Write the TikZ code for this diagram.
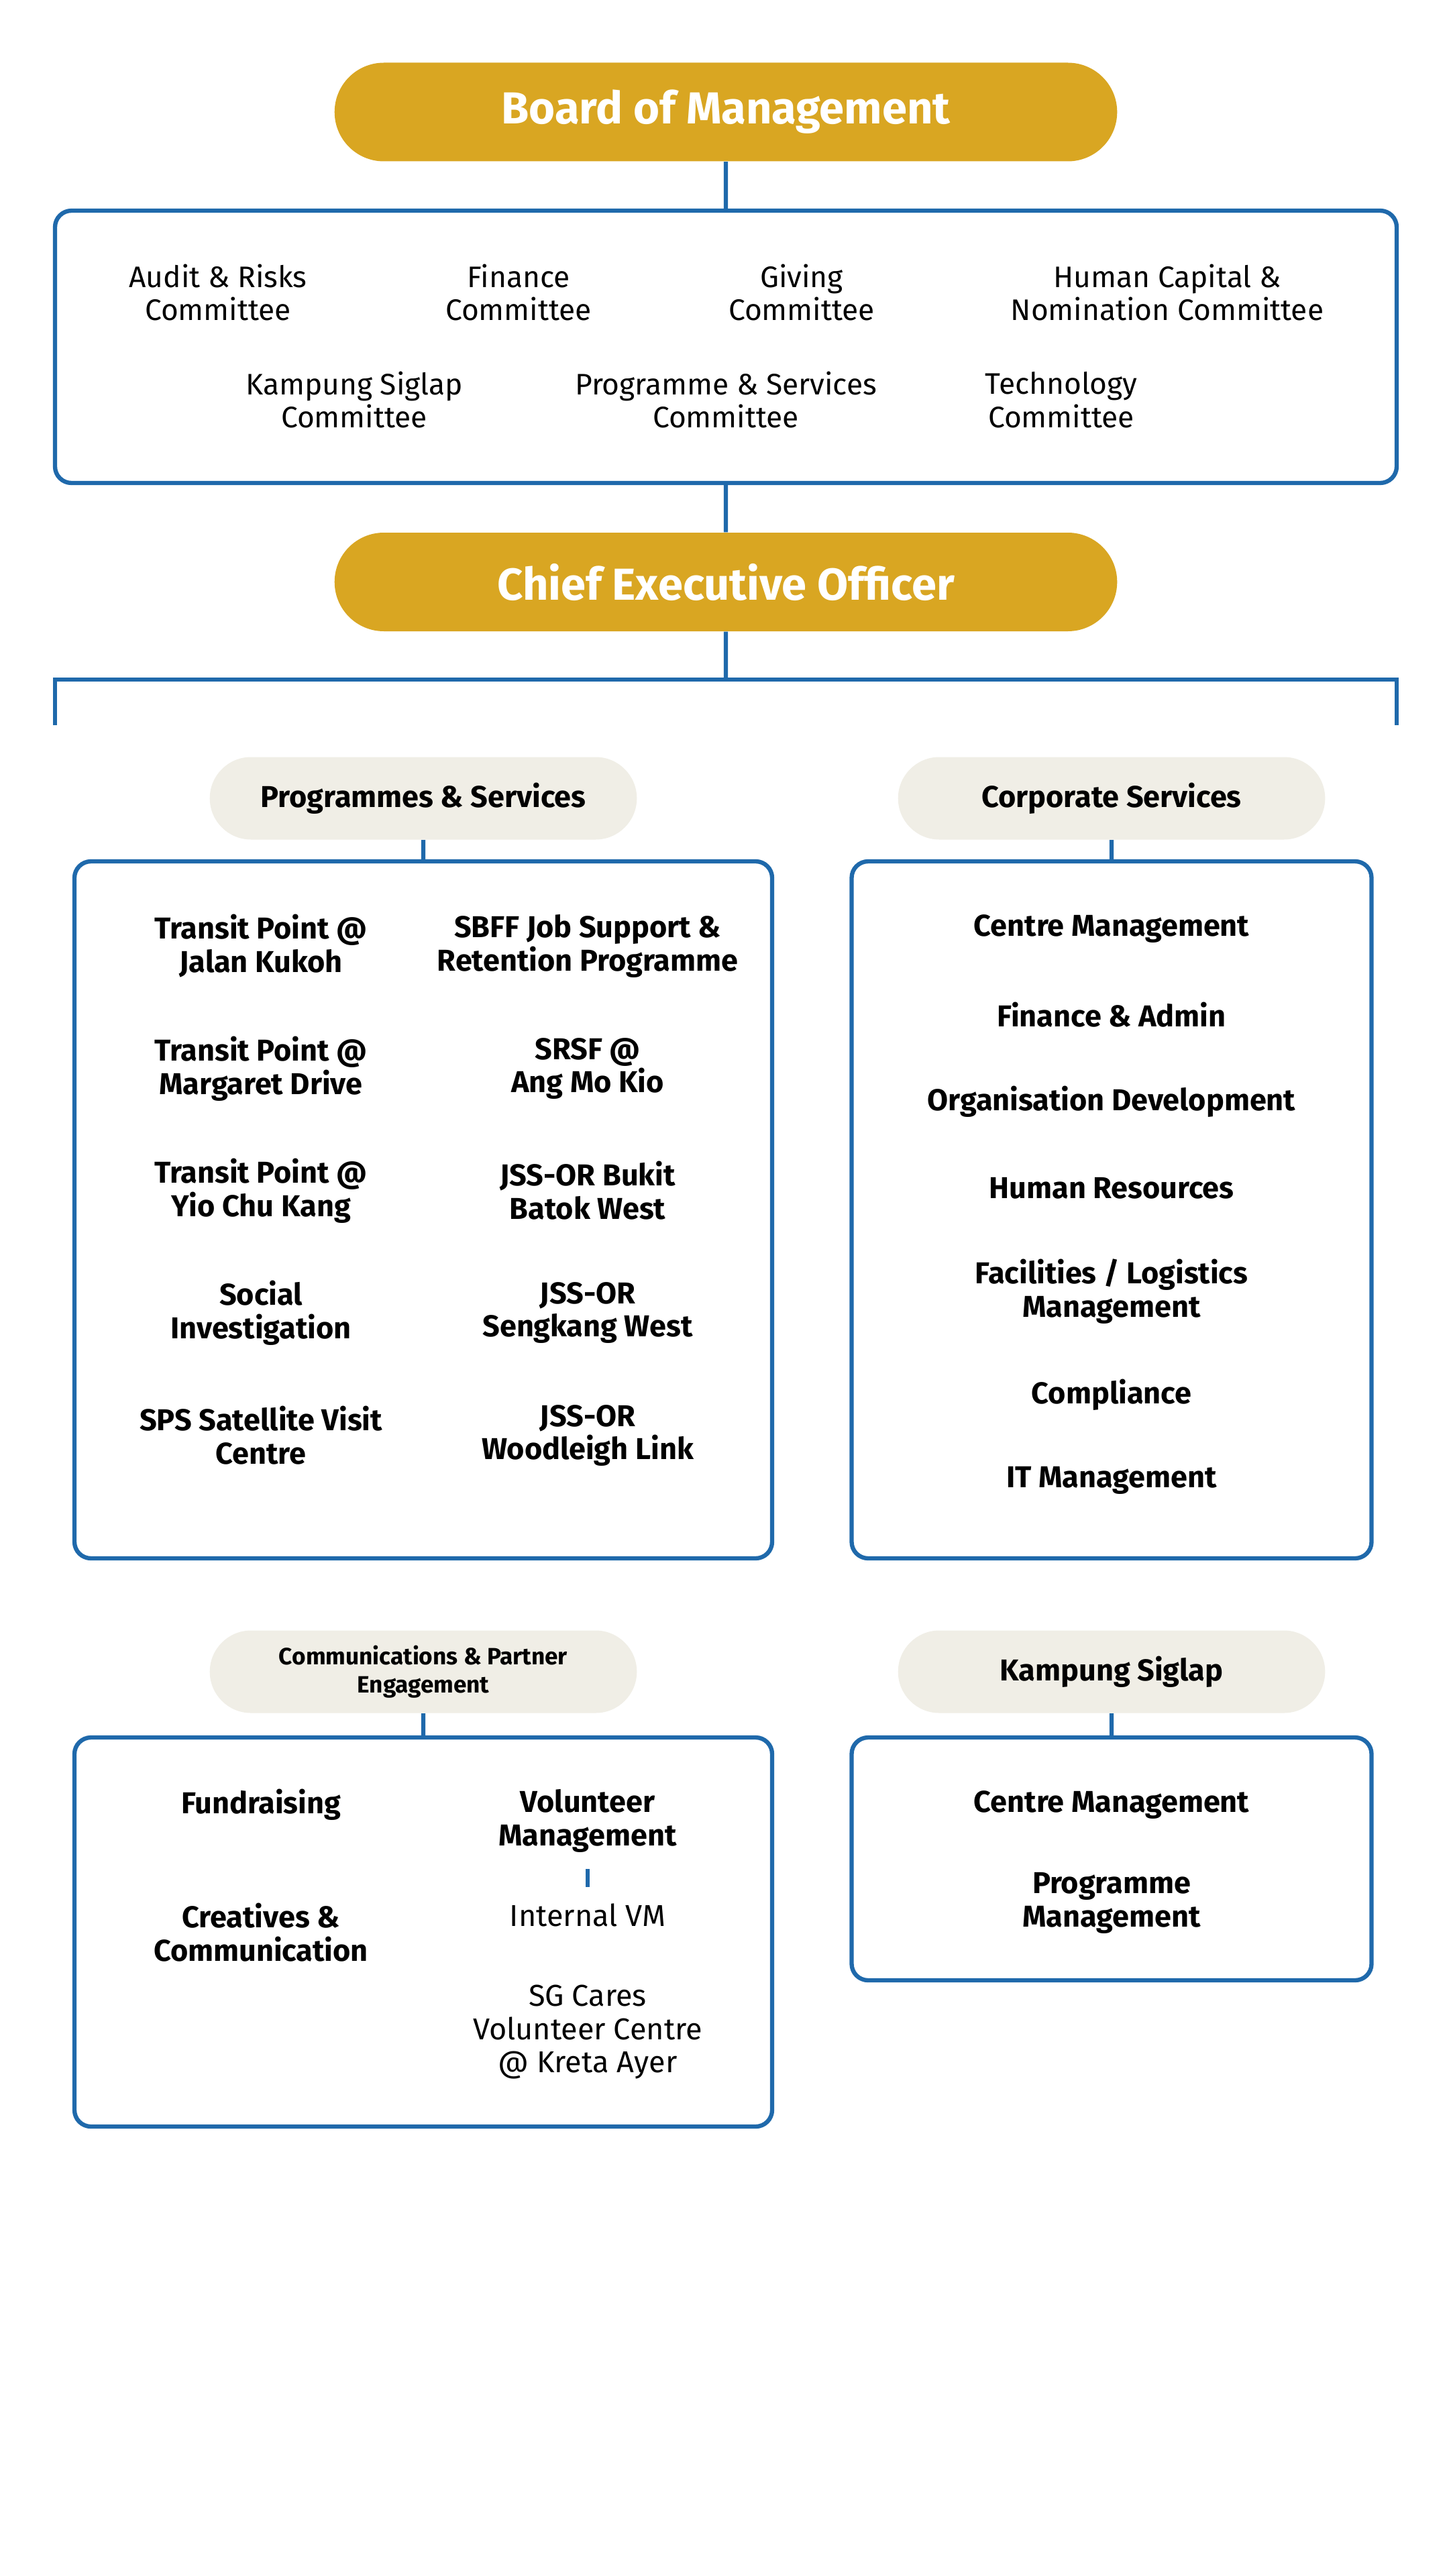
\documentclass[tikz,border=0pt]{standalone}
\usepackage{fontspec}
\setmainfont{Fira Sans}
\usetikzlibrary{shapes.misc}
\definecolor{gold}{HTML}{D9A622}
\definecolor{navy}{HTML}{1F69AB}
\definecolor{sand}{HTML}{F0EEE6}
\tikzset{
	link/.style={draw=navy, line width=1.8pt},
	toppill/.style={rounded rectangle, fill=gold, text=white, minimum width=11.9cm, minimum height=1.47cm, font=\fontsize{19}{21}\selectfont\bfseries},
	hdrpill/.style={rounded rectangle, fill=sand, minimum width=6.6cm, minimum height=1.23cm, align=center, font=\fontsize{12.8}{14}\selectfont\bfseries},
	panel/.style={draw=navy, line width=1.8pt, rounded corners=7pt, inner sep=0pt},
	cttee/.style={align=center, inner sep=1pt, font=\fontsize{12.6}{14.2}\selectfont},
	unit/.style={align=center, inner sep=1pt, font=\fontsize{12.8}{14.2}\selectfont\bfseries},
	subunit/.style={align=center, inner sep=1pt, font=\fontsize{12.8}{14.2}\selectfont},
}
\begin{document}
\begin{tikzpicture}
	\fill[white] (0,0) rectangle (21.6,-38.4);
	\useasboundingbox (0,0) rectangle (21.6,-38.4);

	% board and committees
	\node[toppill] (bom) at (10.82,-1.67) {Board of Management};
	\node[panel, minimum width=20.0cm, minimum height=4.06cm] (cttbox) at (10.82,-5.17) {};
	\node[cttee] (audit) at (3.25,-4.36) {Audit \& Risks\\Committee};
	\node[cttee] (fin) at (7.73,-4.36) {Finance\\Committee};
	\node[cttee] (giving) at (11.95,-4.36) {Giving\\Committee};
	\node[cttee] (hcn) at (17.40,-4.36) {Human Capital \&\\Nomination Committee};
	\node[cttee] (ksc) at (5.28,-5.96) {Kampung Siglap\\Committee};
	\node[cttee] (psc) at (10.82,-5.96) {Programme \& Services\\Committee};
	\node[cttee] (tech) at (15.82,-5.96) {Technology\\Committee};

	\node[toppill] (ceo) at (10.82,-8.675) {Chief Executive Officer};

	\draw[link] (bom) -- (cttbox);
	\draw[link] (cttbox) -- (ceo);

	% bus under the CEO
	\coordinate (busL) at (0.82,-10.13);
	\coordinate (busR) at (20.82,-10.13);
	\draw[link] (ceo) -- (ceo |- busL);
	\draw[link] ([yshift=-0.68cm]busL) -- (busL) -- (busR) -- ([yshift=-0.68cm]busR);

	% programmes & services
	\node[hdrpill] (prog) at (6.31,-11.90) {Programmes \& Services};
	\node[panel, minimum width=10.4cm, minimum height=10.39cm] (progbox) at (6.31,-18.035) {};
	\draw[link] (prog) -- (progbox);
	\node[unit] (tpjk) at (3.89,-14.10) {Transit Point @\\Jalan Kukoh};
	\node[unit] (tpmd) at (3.89,-15.93) {Transit Point @\\Margaret Drive};
	\node[unit] (tpyck) at (3.89,-17.75) {Transit Point @\\Yio Chu Kang};
	\node[unit] (soc) at (3.89,-19.57) {Social\\Investigation};
	\node[unit] (sps) at (3.89,-21.40) {SPS Satellite Visit\\Centre};
	\node[unit] (sbff) at (8.76,-14.10) {SBFF Job Support \&\\Retention Programme};
	\node[unit] (srsf) at (8.76,-15.93) {SRSF @\\Ang Mo Kio};
	\node[unit] (jssbb) at (8.76,-17.75) {JSS-OR Bukit\\Batok West};
	\node[unit] (jsssk) at (8.76,-19.57) {JSS-OR\\Sengkang West};
	\node[unit] (jsswl) at (8.76,-21.40) {JSS-OR\\Woodleigh Link};

	% corporate services
	\node[hdrpill] (corp) at (16.57,-11.90) {Corporate Services};
	\node[panel, minimum width=7.75cm, minimum height=10.39cm] (corpbox) at (16.57,-18.035) {};
	\draw[link] (corp) -- (corpbox);
	\node[unit] (cm) at (16.57,-13.85) {Centre Management};
	\node[unit] (fa) at (16.57,-15.13) {Finance \& Admin};
	\node[unit] (od) at (16.57,-16.42) {Organisation Development};
	\node[unit] (hr) at (16.57,-17.71) {Human Resources};
	\node[unit] (flm) at (16.57,-19.25) {Facilities / Logistics\\Management};
	\node[unit] (comp) at (16.57,-20.79) {Compliance};
	\node[unit] (itm) at (16.57,-22.07) {IT Management};

	% communications & partner engagement
	\node[hdrpill, font=\fontsize{10}{12}\selectfont\bfseries] (cpe) at (6.31,-24.92) {Communications \& Partner\\Engagement};
	\node[panel, minimum width=10.4cm, minimum height=5.80cm] (cpebox) at (6.31,-28.80) {};
	\draw[link] (cpe) -- (cpebox);
	\node[unit] (fund) at (3.89,-26.90) {Fundraising};
	\node[unit] (crea) at (3.89,-28.81) {Creatives \&\\Communication};
	\node[unit] (volm) at (8.76,-27.14) {Volunteer\\Management};
	\node[subunit] (ivm) at (8.76,-28.55) {Internal VM};
	\node[subunit] (sgc) at (8.76,-30.29) {SG Cares\\Volunteer Centre\\@ Kreta Ayer};
	\draw[link, shorten <=6pt, shorten >=6pt] (volm) -- (ivm);

	% kampung siglap
	\node[hdrpill] (ks) at (16.57,-24.92) {Kampung Siglap};
	\node[panel, minimum width=7.75cm, minimum height=3.62cm] (ksbox) at (16.57,-27.71) {};
	\draw[link] (ks) -- (ksbox);
	\node[unit] (kscm) at (16.57,-26.90) {Centre Management};
	\node[unit] (kspm) at (16.57,-28.37) {Programme\\Management};
\end{tikzpicture}
\end{document}
